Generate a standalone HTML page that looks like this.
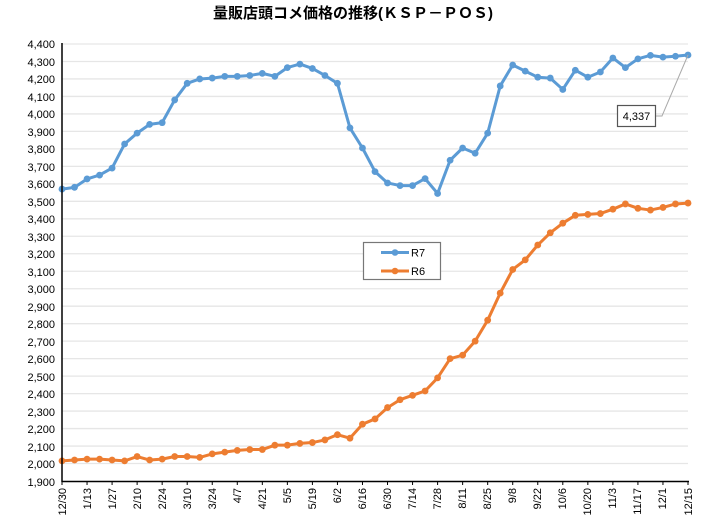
<!DOCTYPE html>
<html><head><meta charset="utf-8"><style>
html,body{margin:0;padding:0;background:#fff;}
svg{display:block;font-family:"Liberation Sans","Noto Sans CJK JP",sans-serif;}
</style></head><body>
<svg id="s" width="706" height="524" viewBox="0 0 706 524" xmlns="http://www.w3.org/2000/svg">
<text x="353" y="18" text-anchor="middle" font-size="15" font-weight="bold" fill="#000">量販店頭コメ価格の推移(ＫＳＰ－ＰＯＳ)</text>
<g id="grid"></g>
<g font-size="11" fill="#000" text-anchor="end">
<text x="55" y="48">4,400</text><text x="55" y="66">4,300</text><text x="55" y="83">4,200</text><text x="55" y="101">4,100</text><text x="55" y="118">4,000</text><text x="55" y="136">3,900</text><text x="55" y="153">3,800</text><text x="55" y="171">3,700</text><text x="55" y="188">3,600</text><text x="55" y="206">3,500</text><text x="55" y="223">3,400</text><text x="55" y="241">3,300</text><text x="55" y="258">3,200</text><text x="55" y="276">3,100</text><text x="55" y="293">3,000</text><text x="55" y="311">2,900</text><text x="55" y="328">2,800</text><text x="55" y="346">2,700</text><text x="55" y="363">2,600</text><text x="55" y="381">2,500</text><text x="55" y="398">2,400</text><text x="55" y="416">2,300</text><text x="55" y="433">2,200</text><text x="55" y="451">2,100</text><text x="55" y="468">2,000</text><text x="55" y="486">1,900</text>
</g>
<g id="xl" font-size="11" fill="#000" text-anchor="end">
<text transform="translate(66,488) rotate(-90)">12/30</text>
<text transform="translate(91,488) rotate(-90)">1/13</text>
<text transform="translate(116,488) rotate(-90)">1/27</text>
<text transform="translate(141,488) rotate(-90)">2/10</text>
<text transform="translate(166,488) rotate(-90)">2/24</text>
<text transform="translate(191,488) rotate(-90)">3/10</text>
<text transform="translate(216,488) rotate(-90)">3/24</text>
<text transform="translate(241,488) rotate(-90)">4/7</text>
<text transform="translate(266,488) rotate(-90)">4/21</text>
<text transform="translate(291,488) rotate(-90)">5/5</text>
<text transform="translate(316,488) rotate(-90)">5/19</text>
<text transform="translate(341,488) rotate(-90)">6/2</text>
<text transform="translate(366,488) rotate(-90)">6/16</text>
<text transform="translate(391,488) rotate(-90)">6/30</text>
<text transform="translate(416,488) rotate(-90)">7/14</text>
<text transform="translate(441,488) rotate(-90)">7/28</text>
<text transform="translate(466,488) rotate(-90)">8/11</text>
<text transform="translate(491,488) rotate(-90)">8/25</text>
<text transform="translate(516,488) rotate(-90)">9/8</text>
<text transform="translate(541,488) rotate(-90)">9/22</text>
<text transform="translate(566,488) rotate(-90)">10/6</text>
<text transform="translate(591,488) rotate(-90)">10/20</text>
<text transform="translate(616,488) rotate(-90)">11/3</text>
<text transform="translate(641,488) rotate(-90)">11/17</text>
<text transform="translate(666,488) rotate(-90)">12/1</text>
<text transform="translate(692,488) rotate(-90)">12/15</text>
</g>
<g id="ser"></g>
<line x1="62" y1="43" x2="62" y2="482" stroke="#000" stroke-width="1.5"/>
<line x1="62" y1="481.5" x2="689" y2="481.5" stroke="#000" stroke-width="1.5"/>
<g id="ticks"></g>
<polyline points="656,116 662,116 688,55" fill="none" stroke="#aaa" stroke-width="1"/>
<rect x="617.5" y="105.5" width="38" height="21" fill="#fff" stroke="#555" stroke-width="1.2"/>
<text x="636.5" y="120" text-anchor="middle" font-size="11">4,337</text>
<rect x="363.5" y="242.5" width="77" height="37" fill="#fff" stroke="#777" stroke-width="1.2"/>
<line x1="381" y1="252.5" x2="409" y2="252.5" stroke="#5B9BD5" stroke-width="3"/>
<circle cx="395" cy="252.5" r="3.3" fill="#5B9BD5"/>
<text x="411" y="256.5" font-size="11">R7</text>
<line x1="381" y1="271" x2="409" y2="271" stroke="#ED7D31" stroke-width="3"/>
<circle cx="395" cy="271" r="3.3" fill="#ED7D31"/>
<text x="411" y="275" font-size="11">R6</text>
</svg>
<script>
var NS="http://www.w3.org/2000/svg";
function Y(v){return 481-(v-1900)*0.1748;}
function X(i){return 62+i*12.52;}
var g=document.getElementById('grid');
for(var v=2000;v<=4400;v+=100){var l=document.createElementNS(NS,'line');l.setAttribute('x1',62);l.setAttribute('x2',688);l.setAttribute('y1',Y(v));l.setAttribute('y2',Y(v));l.setAttribute('stroke','#e6e6e6');l.setAttribute('stroke-width','1.3');g.appendChild(l);}
var t=document.getElementById('ticks');
for(var i=0;i<=25;i++){var l=document.createElementNS(NS,'line');var x=X(i*2);l.setAttribute('x1',x);l.setAttribute('x2',x);l.setAttribute('y1',481);l.setAttribute('y2',485);l.setAttribute('stroke','#000');t.appendChild(l);}
var r7=[3570,3580,3628,3650,3690,3828,3890,3940,3950,4080,4175,4200,4205,4215,4215,4220,4232,4215,4265,4285,4260,4220,4175,3920,3805,3670,3605,3590,3590,3630,3545,3735,3805,3775,3890,4160,4280,4245,4210,4205,4140,4250,4210,4240,4320,4265,4315,4335,4325,4330,4337];
var r6=[2015,2020,2025,2025,2020,2015,2040,2020,2025,2040,2040,2035,2055,2065,2075,2080,2080,2105,2105,2115,2120,2135,2165,2145,2225,2255,2320,2365,2390,2415,2490,2600,2620,2700,2820,2975,3110,3165,3250,3320,3375,3420,3425,3430,3455,3485,3460,3450,3465,3485,3490];
var s=document.getElementById('ser');
function draw(d,c){var p=d.map(function(v,i){return X(i)+','+Y(v)}).join(' ');var pl=document.createElementNS(NS,'polyline');pl.setAttribute('points',p);pl.setAttribute('fill','none');pl.setAttribute('stroke',c);pl.setAttribute('stroke-width','3');pl.setAttribute('stroke-linejoin','round');s.appendChild(pl);
d.forEach(function(v,i){var ci=document.createElementNS(NS,'circle');ci.setAttribute('cx',X(i));ci.setAttribute('cy',Y(v));ci.setAttribute('r','3.4');ci.setAttribute('fill',c);s.appendChild(ci);});}
draw(r6,'#ED7D31');draw(r7,'#5B9BD5');
</script>
</body></html>
